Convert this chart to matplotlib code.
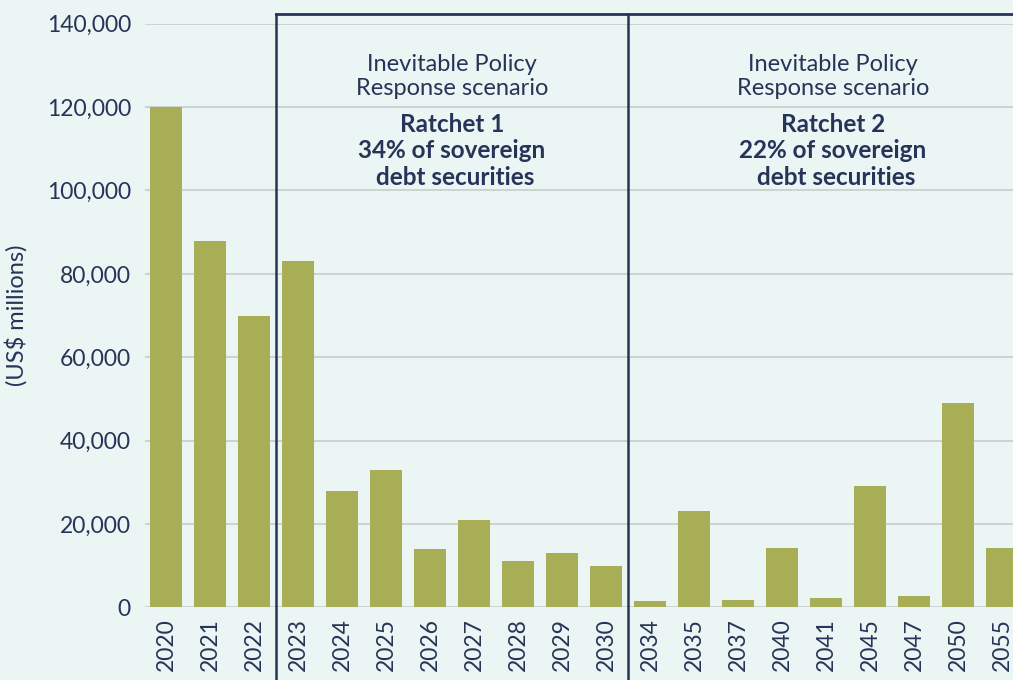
import matplotlib.pyplot as plt
import matplotlib.transforms as mtransforms
from matplotlib.ticker import FuncFormatter

# Valores (US$ milhões)
anos = ['2020', '2021', '2022', '2023', '2024', '2025', '2026', '2027', '2028', '2029',
        '2030', '2034', '2035', '2037', '2040', '2041', '2045', '2047', '2050', '2055']
valores = [120000, 88000, 70000, 83000, 28000, 33000, 14000, 21000, 11000, 13000,
           10000, 1500, 23000, 1700, 14200, 2200, 29000, 2600, 49000, 14200]
yticks = [0, 20000, 40000, 60000, 80000, 100000, 120000, 140000]

fundo = '#ebf5f3'
verde = '#a7ae55'
azul = '#253458'
grade = '#c8cccc'

plt.rcParams['font.family'] = ['Lato', 'DejaVu Sans']

fig = plt.figure(figsize=(10.13, 6.8), dpi=100, facecolor=fundo)
ax = fig.add_axes([0.143, 0.107, 0.857, 0.858], facecolor=fundo)

x = list(range(len(anos)))
ax.bar(x, valores, width=0.727, color=verde, zorder=2)

ax.set_xlim(-0.48, 19.25)
ax.set_ylim(0, 140000)
ax.set_yticks(yticks)
ax.yaxis.set_major_formatter(FuncFormatter(lambda v, p: f'{int(v):,}'))
ax.set_xticks(x)
ax.set_xticklabels(anos, rotation=90)
ax.tick_params(axis='both', length=0, labelsize=16.5, labelcolor=azul)
ax.tick_params(axis='y', pad=10)
ax.tick_params(axis='x', pad=8)
ax.grid(axis='y', color=grade, linewidth=1.2, zorder=0)
for s in ax.spines.values():
    s.set_visible(False)

ax.set_ylabel('(US$ millions)', fontsize=17, color=azul, labelpad=14)

# caixas dos cenários
trans = mtransforms.blended_transform_factory(ax.transData, fig.transFigure)
topo = 1 - 14 / 680
for xv in [2.5, 10.5]:
    ax.plot([xv, xv], [0, topo], color=azul, linewidth=1.8, transform=trans, clip_on=False, zorder=3)
ax.plot([2.5, 19.5], [topo, topo], color=azul, linewidth=2, transform=trans, clip_on=False, zorder=3)

caixas = [
    (6.5, 'Ratchet 1\n34% of sovereign\n debt securities'),
    (15.16, 'Ratchet 2\n22% of sovereign\n debt securities'),
]
for cx, txt in caixas:
    ax.text(cx, 127300, 'Inevitable Policy\nResponse scenario', ha='center', va='center',
            fontsize=17, color=azul, fontweight='normal', linespacing=1.2)
    ax.text(cx, 109500, txt, ha='center', va='center', fontsize=17.5, color=azul,
            fontweight='bold', linespacing=1.17)

plt.savefig('out.png', dpi=100, facecolor=fundo)
